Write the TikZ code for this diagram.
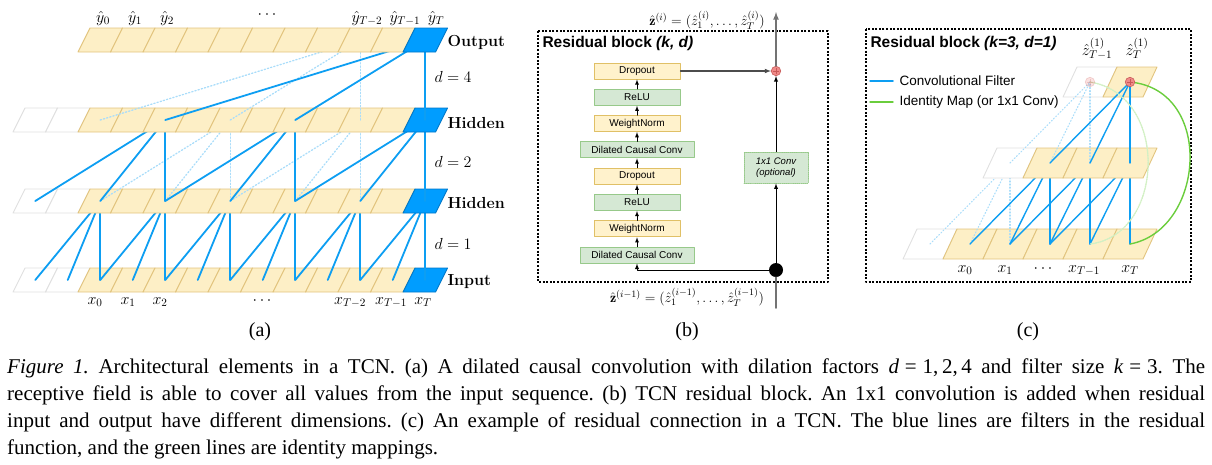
\RequirePackage{fix-cm}
\documentclass[tikz,border=0pt]{standalone}
\usepackage{fontspec}
\newfontfamily\capfont{Liberation Serif}
\newfontfamily\sansfont{Liberation Sans}
\usepackage{tikz}
\tikzset{>=latex}
\usetikzlibrary{positioning,arrows}
\definecolor{cellyel}{HTML}{FDEFC6}
\definecolor{celledge}{HTML}{E2C47E}
\definecolor{cellblue}{HTML}{009DFF}
\definecolor{blueedge}{HTML}{0077C8}
\definecolor{filtblue}{HTML}{0D9EF2}
\definecolor{blkyel}{HTML}{FFF2CC}
\definecolor{yeledge}{HTML}{E0C066}
\definecolor{blkgreen}{HTML}{D5E8D4}
\definecolor{greenedge}{HTML}{97C98A}
\definecolor{plusred}{HTML}{F08A88}
\definecolor{rededge}{HTML}{C85A58}
\definecolor{idgreen}{HTML}{6ACD3C}

\begin{document}
\begin{tikzpicture}[x=1pt,y=-1pt,line cap=round,line join=round,
  cellY/.style={fill=cellyel,draw=celledge,line width=0.9},
  cellW/.style={fill=white,draw=black!12,line width=0.9},
  cellB/.style={fill=cellblue,draw=blueedge,line width=0.9},
  filt/.style={draw=filtblue,line width=1.8},
  ghost/.style={draw=filtblue!35,dotted,line width=1.3},
  lab/.style={font=\fontsize{16}{19}\selectfont},
  blk/.style={draw,line width=0.9,minimum width=86,minimum height=16,inner sep=1,font=\sansfont\fontsize{10}{12}\selectfont},
  yblk/.style={blk,fill=blkyel,draw=yeledge},
  gblk/.style={blk,fill=blkgreen,draw=greenedge},
  convbox/.style={fill=blkgreen,draw=greenedge,densely dotted,line width=0.9,minimum width=64,minimum height=31,inner sep=1,align=center,font=\sansfont\itshape\fontsize{9.5}{11}\selectfont},
  stackarrow/.style={->,line width=0.8},
  blockframe/.style={dash pattern=on 2pt off 1.6pt,line cap=butt,line width=1.4},
  titlefont/.style={font=\sansfont\bfseries\fontsize{15.5}{18}\selectfont},
  plusnode/.style={circle,fill=plusred,draw=rededge,line width=0.6,minimum size=9.5,inner sep=0,
    path picture={\draw[line width=0.8] (path picture bounding box.center) ++(-2.6,0) -- ++(5.2,0) ++(-2.6,-2.6) -- ++(0,5.2);}},
  idmap/.style={draw=idgreen,line width=1.4},
  panel/.style={font=\capfont\fontsize{20}{24}\selectfont}]
\useasboundingbox (0,0) rectangle (1212,464);

% (a) dilated causal convolution
\foreach \col in {0,...,12}{
  \coordinate (in\col) at (35.25+32.5*\col,280);
  \coordinate (hidB\col) at (35.25+32.5*\col,201);
  \coordinate (hidA\col) at (35.25+32.5*\col,120);
  \coordinate (out\col) at (35.25+32.5*\col,40);
}
% input row
\foreach \col in {0,1} \path[cellW] (13+32.5*\col,292) -- ++(32.5,0) -- ++(12,-24) -- ++(-32.5,0) -- cycle;
\foreach \col in {2,...,11} \path[cellY] (13+32.5*\col,292) -- ++(32.5,0) -- ++(12,-24) -- ++(-32.5,0) -- cycle;
\path[cellB] (403,292) -- ++(32.5,0) -- ++(12,-24) -- ++(-32.5,0) -- cycle;
% d = 1
\foreach \tgt in {2,4,...,12} \foreach \off in {0,1,2}{
  \pgfmathtruncatemacro\src{\tgt-\off}
  \draw[filt] (in\src) -- (hidB\tgt);}
% hidden row (lower)
\foreach \col in {0,1} \path[cellW] (13+32.5*\col,213) -- ++(32.5,0) -- ++(12,-24) -- ++(-32.5,0) -- cycle;
\foreach \col in {2,...,11} \path[cellY] (13+32.5*\col,213) -- ++(32.5,0) -- ++(12,-24) -- ++(-32.5,0) -- cycle;
\path[cellB] (403,213) -- ++(32.5,0) -- ++(12,-24) -- ++(-32.5,0) -- cycle;
% d = 2
\foreach \tgt in {6,10} \foreach \off in {0,2,4}{
  \pgfmathtruncatemacro\src{\tgt-\off}
  \draw[ghost] (hidB\src) -- (hidA\tgt);}
\foreach \tgt in {4,8,12} \foreach \off in {0,2,4}{
  \pgfmathtruncatemacro\src{\tgt-\off}
  \draw[filt] (hidB\src) -- (hidA\tgt);}
% hidden row (upper)
\foreach \col in {0,1} \path[cellW] (13+32.5*\col,132) -- ++(32.5,0) -- ++(12,-24) -- ++(-32.5,0) -- cycle;
\foreach \col in {2,...,11} \path[cellY] (13+32.5*\col,132) -- ++(32.5,0) -- ++(12,-24) -- ++(-32.5,0) -- cycle;
\path[cellB] (403,132) -- ++(32.5,0) -- ++(12,-24) -- ++(-32.5,0) -- cycle;
% d = 4
\foreach \src in {2,6,10} \draw[ghost] (hidA\src) -- (out10);
\foreach \src in {4,8,12} \draw[filt] (hidA\src) -- (out12);
% output row
\foreach \col in {2,...,11} \path[cellY] (13+32.5*\col,52) -- ++(32.5,0) -- ++(12,-24) -- ++(-32.5,0) -- cycle;
\path[cellB] (403,52) -- ++(32.5,0) -- ++(12,-24) -- ++(-32.5,0) -- cycle;

\node[lab,anchor=base] (yh0) at (103,22) {$\hat{y}_0$};
\node[lab,anchor=base] (yh1) at (135,22) {$\hat{y}_1$};
\node[lab,anchor=base] (yh2) at (167,22) {$\hat{y}_2$};
\node[lab,anchor=base] (yhdots) at (267,18) {$\cdots$};
\node[lab,anchor=base] (yhTb) at (367,22) {$\hat{y}_{T-2}$};
\node[lab,anchor=base] (yhTa) at (405,22) {$\hat{y}_{T-1}$};
\node[lab,anchor=base] (yhT) at (436,22) {$\hat{y}_T$};
\node[lab,anchor=base] (x0) at (95,304) {$x_0$};
\node[lab,anchor=base] (x1) at (128,304) {$x_1$};
\node[lab,anchor=base] (x2) at (160,304) {$x_2$};
\node[lab,anchor=base] (xdots) at (262,304) {$\cdots$};
\node[lab,anchor=base] (xTb) at (350,304) {$x_{T-2}$};
\node[lab,anchor=base] (xTa) at (391,304) {$x_{T-1}$};
\node[lab,anchor=base] (xT) at (423,304) {$x_T$};
\node[lab,anchor=west,font=\fontsize{16}{19}\selectfont\bfseries] (outlab) at (444,42) {Output};
\node[lab,anchor=west,font=\fontsize{16}{19}\selectfont\bfseries] (hidAlab) at (444,123) {Hidden};
\node[lab,anchor=west,font=\fontsize{16}{19}\selectfont\bfseries] (hidBlab) at (444,203) {Hidden};
\node[lab,anchor=west,font=\fontsize{16}{19}\selectfont\bfseries] (inlab) at (444,282) {Input};
\node[lab,anchor=west] (dfour) at (431,77) {$d=4$};
\node[lab,anchor=west] (dtwo) at (431,162) {$d=2$};
\node[lab,anchor=west] (done) at (431,244) {$d=1$};
\node[panel] (pa) at (260,332) {(a)};

% (b) residual block
\draw[blockframe] (538,31) rectangle (828,282);
\node[titlefont,anchor=west] (titleb) at (539,43) {Residual block \textit{(k, d)}};
\node[yblk] (dropT) at (637,71) {Dropout};
\node[gblk,below=9.4pt of dropT] (reluT) {ReLU};
\node[yblk,below=9.4pt of reluT] (wnT) {WeightNorm};
\node[gblk,minimum width=114,below=9.4pt of wnT] (dccT) {Dilated Causal Conv};
\node[yblk,below=9.4pt of dccT] (dropB) {Dropout};
\node[gblk,below=9.4pt of dropB] (reluB) {ReLU};
\node[yblk,below=9.4pt of reluB] (wnB) {WeightNorm};
\node[gblk,minimum width=114,below=9.4pt of wnB] (dccB) {Dilated Causal Conv};
\foreach \a/\b in {reluT/dropT,wnT/reluT,dccT/wnT,dropB/dccT,reluB/dropB,wnB/reluB,dccB/wnB}
  \draw[stackarrow] (\a) -- (\b);
\node[plusnode] (plus) at (776,71) {};
\draw[->,draw=black!70,line width=1.1] (dropT) -- (plus);
\coordinate (zout) at (776,12);
\draw[->,draw=black!55,line width=1.6] (plus) -- (zout);
\node[font=\fontsize{14}{16}\selectfont] (zouttxt) at (707,20) {$\hat{\mathbf{z}}^{(i)}=(\hat{z}^{(i)}_1,\ldots,\hat{z}^{(i)}_T)$};
\node[convbox] (conv1) at (776,167.5) {1x1 Conv\\(optional)};
\draw[->,line width=0.9] (conv1) -- (plus);
\node[circle,fill=black,minimum size=14,inner sep=0] (dot) at (776,270) {};
\draw[->,line width=0.9] (dot) -- (conv1);
\draw[->,line width=0.9] (dot) -| (dccB);
\coordinate (zin) at (776,308);
\draw[draw=black!55,line width=1.6] (zin) -- (dot);
\node[font=\fontsize{14}{16}\selectfont] (zintxt) at (687,297) {$\hat{\mathbf{z}}^{(i-1)}=(\hat{z}^{(i-1)}_1,\ldots,\hat{z}^{(i-1)}_T)$};
\node[panel] (pb) at (687,332) {(b)};

% (c) residual connection
\draw[blockframe] (866,29) rectangle (1191,282);
\node[titlefont,anchor=west] (titlec) at (867,43) {Residual block \textit{(k=3, d=1)}};
\node[anchor=west,font=\sansfont\fontsize{13.5}{16}\selectfont] (legf) at (896,81) {Convolutional Filter};
\node[anchor=west,font=\sansfont\fontsize{13.5}{16}\selectfont] (legi) at (896,102) {Identity Map (or 1x1 Conv)};
\draw[filt,line width=1.5] ([xshift=-26pt]legf.west) -- ([xshift=-3pt]legf.west);
\draw[idmap] ([xshift=-26pt]legi.west) -- ([xshift=-3pt]legi.west);
\foreach \i in {0,...,5} \coordinate (cb\i) at (930+40*\i,244);
\foreach \i in {0,...,3} \coordinate (cm\i) at (1010+40*\i,163);
\foreach \i in {0,1} \coordinate (ct\i) at (1090+40*\i,82);
% bottom row
\path[cellW] (903,259) -- ++(40,0) -- ++(14,-30) -- ++(-40,0) -- cycle;
\foreach \i in {1,...,5} \path[cellY] (903+40*\i,259) -- ++(40,0) -- ++(14,-30) -- ++(-40,0) -- cycle;
\foreach \src in {0,1,2} \draw[ghost,line width=1.1] (cb\src) -- (cm0);
\foreach \tgt in {1,2,3} \foreach \off in {0,1,2}{
  \pgfmathtruncatemacro\src{\tgt+\off}
  \draw[filt,line width=1.4] (cb\src) -- (cm\tgt);}
% middle row
\path[cellW] (983,178) -- ++(40,0) -- ++(14,-30) -- ++(-40,0) -- cycle;
\foreach \i in {1,2,3} \path[cellY] (983+40*\i,178) -- ++(40,0) -- ++(14,-30) -- ++(-40,0) -- cycle;
% top row
\path[cellW] (1063,97) -- ++(40,0) -- ++(14,-30) -- ++(-40,0) -- cycle;
\path[cellY] (1103,97) -- ++(40,0) -- ++(14,-30) -- ++(-40,0) -- cycle;
\foreach \src in {0,1,2} \draw[ghost,line width=1.1] (cm\src) -- (ct0);
\foreach \src in {1,2,3} \draw[filt,line width=1.4] (cm\src) -- (ct1);
\draw[idmap,draw=idgreen!30,densely dotted] (ct0) .. controls (1170,95) and (1165,235) .. (cb4);
\draw[idmap] (ct1) .. controls (1215,90) and (1205,230) .. (cb5);
\node[plusnode,opacity=0.25] (plusghost) at (ct0) {};
\node[plusnode] (plusc) at (ct1) {};
\node[lab,anchor=base] (zTa) at (1097,55) {$\hat{z}^{(1)}_{T-1}$};
\node[lab,anchor=base] (zT) at (1137,55) {$\hat{z}^{(1)}_T$};
\node[lab,anchor=base] (cx0) at (965,272) {$x_0$};
\node[lab,anchor=base] (cx1) at (1005,272) {$x_1$};
\node[lab,anchor=base] (cxdots) at (1043,272) {$\cdots$};
\node[lab,anchor=base] (cxTa) at (1084,272) {$x_{T-1}$};
\node[lab,anchor=base] (cxT) at (1130,272) {$x_T$};
\node[panel] (pc) at (1028,332) {(c)};

% caption
\node[anchor=north west,inner sep=0,text width=1198pt,align=justify,font=\capfont\fontsize{21}{26.7}\selectfont\frenchspacing] (cap) at (7,359)
  {\textit{Figure 1.} Architectural elements in a TCN. (a) A dilated causal convolution with dilation factors \textit{d}\hspace{0.28em}=\hspace{0.28em}1,\hspace{0.17em}2,\hspace{0.17em}4 and filter size \textit{k}\hspace{0.28em}=\hspace{0.28em}3. The\linebreak
   receptive field is able to cover all values from the input sequence. (b) TCN residual block. An 1x1 convolution is added when residual\linebreak
   input and output have different dimensions. (c) An example of residual connection in a TCN. The blue lines are filters in the residual\linebreak
   function, and the green lines are identity mappings.};
\end{tikzpicture}
\end{document}
